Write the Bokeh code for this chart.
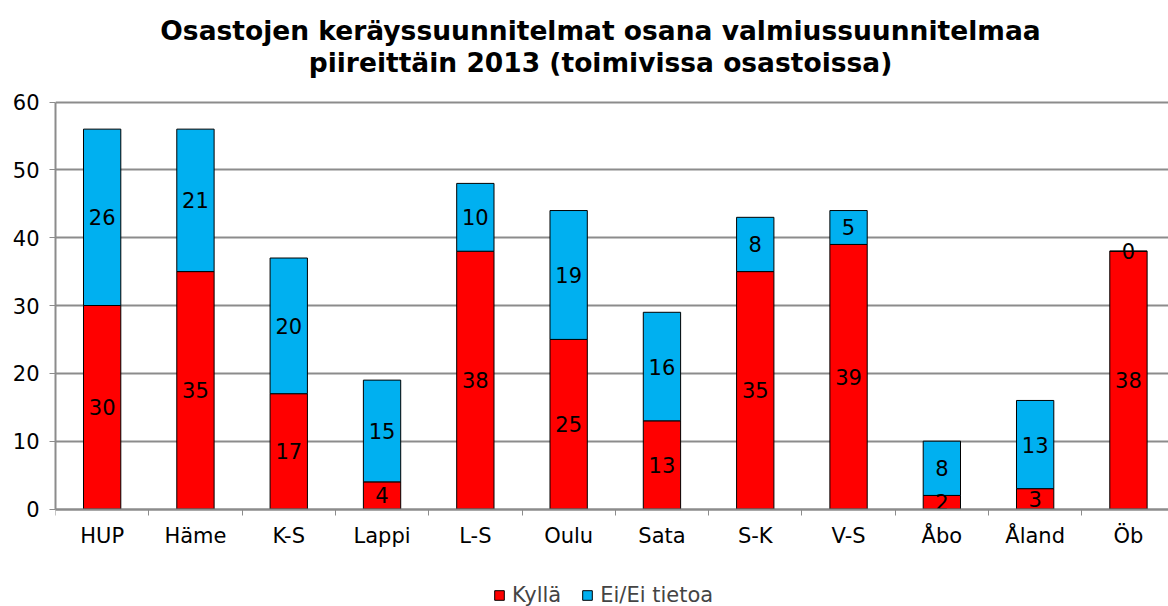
from bokeh.plotting import figure
from bokeh.models import ColumnDataSource, Range1d, FixedTicker, Legend, LegendItem, Label
from bokeh.core.properties import value
from bokeh.embed import file_html
from bokeh.resources import INLINE

categories = ["HUP", "Häme", "K-S", "Lappi", "L-S", "Oulu", "Sata", "S-K", "V-S", "Åbo", "Åland", "Öb"]
kylla = [30, 35, 17, 4, 38, 25, 13, 35, 39, 2, 3, 38]
ei_tietoa = [26, 21, 20, 15, 10, 19, 16, 8, 5, 8, 13, 0]
y_ticks = [0, 10, 20, 30, 40, 50, 60]
title_line1 = "Osastojen keräyssuunnitelmat osana valmiussuunnitelmaa"
title_line2 = "piireittäin 2013 (toimivissa osastoissa)"

FONT = "DejaVu Sans"
RED = "#FF0000"
BLUE = "#00B0F0"
GRID = "#8C8C8C"

# layout (pixels)
FRAME_W, FRAME_H, LEFT = 1113, 606, 55
CAT_W = 93.3                 # px per category
Y0_PX, Y60_PX = 508.5, 101.5  # screen rows of 0 and 60
PPU = (Y0_PX - Y60_PX) / 60.0

x_end = FRAME_W / CAT_W
y_start = -(FRAME_H - Y0_PX) / PPU
y_end = 60 + Y60_PX / PPU

xs = [i + 0.5 for i in range(len(categories))]
tops = [a + b for a, b in zip(kylla, ei_tietoa)]
src = ColumnDataSource(dict(
    x=xs, kylla=kylla, ei=ei_tietoa, top=tops,
    kylla_mid=[a / 2 for a in kylla],
    ei_mid=[a + b / 2 for a, b in zip(kylla, ei_tietoa)],
    kylla_txt=[str(v) for v in kylla],
    ei_txt=[str(v) for v in ei_tietoa],
))

p = figure(title=None, frame_width=FRAME_W, frame_height=FRAME_H, output_backend="svg",
           toolbar_location=None, x_range=Range1d(0, x_end), y_range=Range1d(y_start, y_end),
           min_border_left=LEFT, min_border_right=0, min_border_top=0, min_border_bottom=0)
p.outline_line_color = None
p.background_fill_color = "white"

# title (two centred lines)
cx = (600 - LEFT) / CAT_W
for txt, row in [(title_line1, 30), (title_line2, 62)]:
    p.add_layout(Label(x=cx, y=(Y0_PX - row) / PPU, text=txt, text_align="center",
                       text_baseline="middle", text_font=FONT, text_font_size="26.5px",
                       text_font_style="bold", text_color="black"))

r1 = p.vbar(x="x", bottom=0, top="kylla", width=0.4, source=src,
            fill_color=RED, line_color="black", line_width=1)
r2 = p.vbar(x="x", bottom="kylla", top="top", width=0.4, source=src,
            fill_color=BLUE, line_color="black", line_width=1)

p.text(x="x", y="kylla_mid", text="kylla_txt", source=src, text_align="center",
       text_baseline="middle", text_font=value(FONT), text_font_size="21px", text_color="black")
p.text(x="x", y="ei_mid", text="ei_txt", source=src, text_align="center",
       text_baseline="middle", text_font=value(FONT), text_font_size="21px", text_color="black")

# x axis at y = 0
xa = p.xaxis[0]
xa.fixed_location = 0
xa.bounds = (0, x_end)
xa.ticker = FixedTicker(ticks=xs, minor_ticks=list(range(len(categories) + 1)))
xa.major_label_overrides = {x: c for x, c in zip(xs, categories)}
xa.major_tick_line_color = None
xa.major_tick_out = 0
xa.major_tick_in = 0
xa.minor_tick_line_color = GRID
xa.minor_tick_out = 6
xa.minor_tick_in = 0
xa.axis_line_color = GRID
xa.axis_line_width = 2
xa.major_label_standoff = 9
xa.major_label_text_font = FONT
xa.major_label_text_font_size = "21px"
xa.major_label_text_color = "black"

ya = p.yaxis[0]
ya.bounds = (0, 60)
ya.ticker = FixedTicker(ticks=y_ticks)
ya.minor_tick_line_color = None
ya.major_tick_line_color = GRID
ya.major_tick_out = 6
ya.major_tick_in = 0
ya.axis_line_color = GRID
ya.axis_line_width = 2
ya.major_label_standoff = 10
ya.major_label_text_font = FONT
ya.major_label_text_font_size = "21px"
ya.major_label_text_color = "black"

p.xgrid.grid_line_color = None
p.ygrid.grid_line_color = GRID
p.ygrid.grid_line_width = 2

legend = Legend(items=[LegendItem(label="Kyllä", renderers=[r1]),
                       LegendItem(label="Ei/Ei tietoa", renderers=[r2])],
                orientation="horizontal", location=(493 - LEFT, -1),
                glyph_width=12, glyph_height=12, label_standoff=7, spacing=20,
                label_text_font=FONT, label_text_font_size="21px",
                border_line_color=None, background_fill_alpha=0, margin=0, padding=0)
p.add_layout(legend)

open("out.html", "w").write(file_html(p, INLINE))
